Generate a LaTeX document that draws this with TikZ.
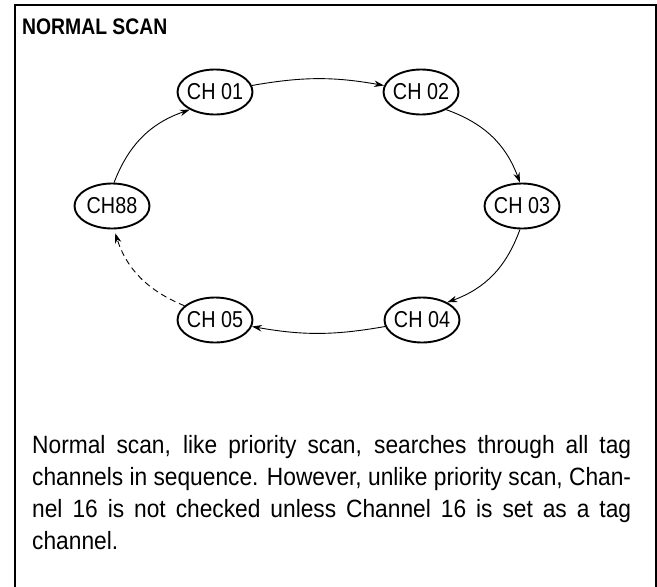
\documentclass[tikz,border=0pt]{standalone}
\usepackage{fontspec}
\setmainfont[FakeStretch=0.91]{Liberation Sans}
\newfontfamily\narrowfont[FakeStretch=0.86]{Liberation Sans}
\usetikzlibrary{shapes.geometric,arrows.meta}
\begin{document}
\begin{tikzpicture}[x=1pt,y=1pt,
  chan/.style={ellipse,draw,line width=1.9pt,minimum width=75pt,minimum height=45pt,inner sep=0pt,
    font=\narrowfont\fontsize{23pt}{26pt}\selectfont},
  flow/.style={line width=0.9pt,-{Stealth[length=10pt,width=6.5pt]}},
  dashflow/.style={flow,dash pattern=on 6pt off 4pt,shorten >=4pt},
]
\useasboundingbox (0,0) rectangle (657,-587);
\fill[white] (0,0) rectangle (657,-587);
\draw[line width=1.6pt] (15,-600) -- (15,-5) -- (656,-5) -- (656,-600);
\node[anchor=base west,inner sep=0pt,font=\narrowfont\bfseries\fontsize{22.5pt}{24pt}\selectfont] (title) at (22,-34.5) {NORMAL SCAN};
\node[chan] (c1) at (215,-92) {\makebox[0pt]{CH 01}};
\node[chan] (c2) at (421,-92) {\makebox[0pt]{CH 02}};
\node[chan] (c3) at (522,-206) {\makebox[0pt]{CH 03}};
\node[chan] (c4) at (422,-320) {\makebox[0pt]{CH 04}};
\node[chan] (c5) at (215,-320) {\makebox[0pt]{CH 05}};
\node[chan] (c88) at (112,-206) {\makebox[0pt]{CH88}};
\draw[flow] (c1.10) to[bend left=10] (c2.170);
\draw[flow] (c2.-35) to[bend left=25] (c3.95);
\draw[flow] (c3.-95) to[bend left=25] (c4.35);
\draw[flow] (c4.190) to[bend left=10] (c5.-10);
\draw[dashflow] (c5.155) to[bend left=25] (c88.-85);
\draw[flow] (c88.85) to[bend left=25] (c1.-145);
\node[anchor=base west,inner sep=0pt] (body) at (32,-453) {\parbox[t]{599pt}{\fontsize{25pt}{32pt}\selectfont\parindent=0pt\hyphenpenalty=10000
Normal scan, like priority scan, searches through all tag\linebreak channels in sequence. However, unlike priority scan, Chan-\linebreak nel 16 is not checked unless Channel 16 is set as a tag\linebreak channel.}};
\end{tikzpicture}
\end{document}
